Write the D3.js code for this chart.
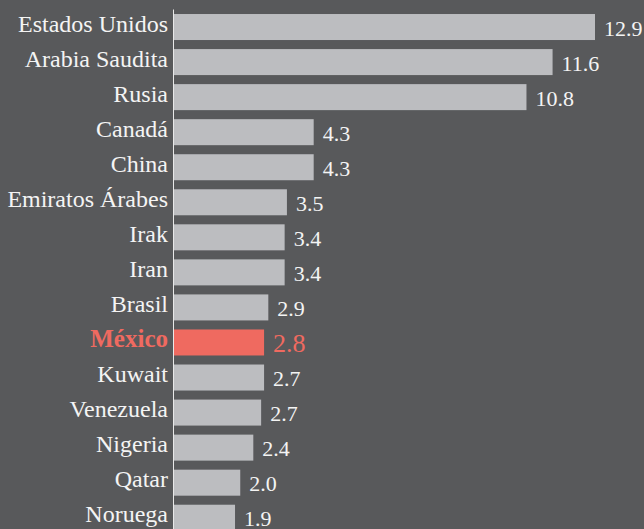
<!DOCTYPE html>
<html>
<head>
<meta charset="utf-8">
<script src="https://cdn.jsdelivr.net/npm/d3@7"></script>
</head>
<body style="margin:0;background:#58595b">
<script>
const categories = ["Estados Unidos", "Arabia Saudita", "Rusia", "Canadá", "China",
  "Emiratos Árabes", "Irak", "Iran", "Brasil", "México", "Kuwait", "Venezuela",
  "Nigeria", "Qatar", "Noruega"];
const values = [12.9, 11.6, 10.8, 4.28, 4.28, 3.46, 3.39, 3.39, 2.89, 2.76, 2.76, 2.67, 2.43, 2.03, 1.87];
const valueLabels = ["12.9", "11.6", "10.8", "4.3", "4.3", "3.5", "3.4", "3.4", "2.9", "2.8", "2.7", "2.7", "2.4", "2.0", "1.9"];
const highlight = "México";

const W = 644, H = 529;
const BG = "#58595b", BAR = "#bcbdc0", HI = "#ef6a60", TXT = "#f4f4f4";

const svg = d3.select("body").append("svg").attr("width", W).attr("height", H)
  .style("display", "block")
  .style("font-family", '"Liberation Serif", Tinos, "Times New Roman", serif');
svg.append("rect").attr("width", W).attr("height", H).attr("fill", BG);

const x = d3.scaleLinear().domain([0, 12.9]).range([174, 595]);
const y = d3.scaleBand().domain(categories).range([9.5, 9.5 + 15 * 35.05])
  .paddingInner(0.258).paddingOuter(0.129);

const data = categories.map((c, i) => ({ c, v: values[i], l: valueLabels[i] }));

svg.selectAll("rect.bar").data(data).join("rect")
  .attr("class", "bar")
  .attr("x", x(0))
  .attr("y", d => y(d.c))
  .attr("width", d => x(d.v) - x(0))
  .attr("height", y.bandwidth())
  .attr("fill", d => d.c === highlight ? HI : BAR);

// axis line
svg.append("line")
  .attr("x1", 173.5).attr("x2", 173.5)
  .attr("y1", y.range()[0]).attr("y2", H)
  .attr("stroke", "#e8e8e8").attr("stroke-width", 1);

// category labels
svg.selectAll("text.cat").data(data).join("text")
  .attr("class", "cat")
  .attr("x", 168)
  .attr("y", d => y(d.c) + y.bandwidth() / 2 + 4.5)
  .attr("text-anchor", "end")
  .style("font-size", d => (d.c === highlight ? "25px" : "24px"))
  .style("font-weight", d => d.c === highlight ? "bold" : "normal")
  .attr("fill", d => d.c === highlight ? HI : TXT)
  .text(d => d.c);

// value labels
svg.selectAll("text.val").data(data).join("text")
  .attr("class", "val")
  .attr("x", d => x(d.v) + 9)
  .attr("y", d => y(d.c) + y.bandwidth() / 2 + (d.c === highlight ? 10 : 8.5))
  .style("font-size", d => (d.c === highlight ? "26px" : "22px"))
  .attr("fill", d => d.c === highlight ? HI : TXT)
  .text(d => d.l);
</script>
</body>
</html>
